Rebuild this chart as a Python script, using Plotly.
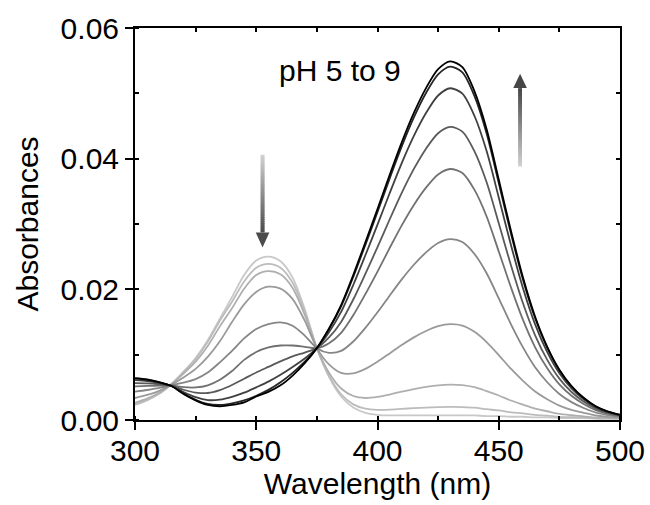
import plotly.graph_objects as go

# ---------------- data ----------------
wavelength = [300, 305, 310, 315, 320, 325, 330, 335, 340, 345, 350, 355, 360, 365, 370,
              375, 380, 385, 390, 395, 400, 405, 410, 415, 420, 425, 430, 435, 440, 445,
              450, 455, 460, 465, 470, 475, 480, 485, 490, 495, 500]

spec_01 = [0.0023, 0.0030, 0.0040, 0.0055, 0.0074, 0.0095, 0.0122, 0.0155, 0.0188, 0.0222, 0.0244, 0.0250, 0.0243, 0.0218, 0.0170,
           0.0110, 0.0066, 0.0036, 0.0019, 0.0011, 0.0008, 0.0007, 0.0007, 0.0007, 0.0007, 0.0007, 0.0007, 0.0007, 0.0007, 0.0006,
           0.0006, 0.0005, 0.0005, 0.0004, 0.0004, 0.0003, 0.0003, 0.0003, 0.0002, 0.0002, 0.0002]
spec_02 = [0.00240, 0.00308, 0.00404, 0.00549, 0.00732, 0.00934, 0.01196, 0.01518, 0.01810, 0.02120, 0.02330, 0.02390, 0.02330, 0.02100, 0.01660,
           0.01100, 0.00678, 0.00394, 0.00239, 0.00173, 0.00156, 0.00158, 0.00170, 0.00181, 0.00190, 0.00197, 0.00200, 0.00198, 0.00189, 0.00165,
           0.00147, 0.00118, 0.00101, 0.00077, 0.00066, 0.00048, 0.00042, 0.00037, 0.00025, 0.00023, 0.00021]
spec_03 = [0.00266, 0.00328, 0.00416, 0.00547, 0.00710, 0.00893, 0.01134, 0.01433, 0.01710, 0.02010, 0.02220, 0.02280, 0.02230, 0.02020, 0.01610,
           0.01100, 0.00724, 0.00482, 0.00367, 0.00337, 0.00354, 0.00390, 0.00434, 0.00473, 0.00506, 0.00531, 0.00542, 0.00534, 0.00502, 0.00442,
           0.00375, 0.00298, 0.00235, 0.00174, 0.00134, 0.00094, 0.00073, 0.00057, 0.00037, 0.00030, 0.00025]
spec_04 = [0.00336, 0.00383, 0.00446, 0.00542, 0.00652, 0.00782, 0.00965, 0.01204, 0.01500, 0.01770, 0.01960, 0.02040, 0.02010, 0.01850, 0.01520,
           0.01100, 0.00851, 0.00721, 0.00714, 0.00783, 0.00893, 0.01019, 0.01148, 0.01265, 0.01363, 0.01437, 0.01468, 0.01445, 0.01350, 0.01193,
           0.00994, 0.00785, 0.00600, 0.00437, 0.00319, 0.00221, 0.00156, 0.00110, 0.00069, 0.00048, 0.00035]
spec_05 = [0.00434, 0.00459, 0.00490, 0.00535, 0.00571, 0.00626, 0.00727, 0.00883, 0.01058, 0.01249, 0.01394, 0.01469, 0.01494, 0.01443, 0.01292,
           0.01100, 0.01029, 0.01057, 0.01201, 0.01410, 0.01649, 0.01903, 0.02152, 0.02376, 0.02565, 0.02709, 0.02769, 0.02724, 0.02540, 0.02246,
           0.01863, 0.01469, 0.01111, 0.00807, 0.00578, 0.00399, 0.00274, 0.00184, 0.00115, 0.00075, 0.00050]
spec_06 = [0.00515, 0.00523, 0.00525, 0.00529, 0.00503, 0.00498, 0.00531, 0.00617, 0.00750, 0.00920, 0.01040, 0.01110, 0.01140, 0.01140, 0.01120,
           0.01100, 0.01175, 0.01334, 0.01603, 0.01927, 0.02272, 0.02631, 0.02979, 0.03292, 0.03557, 0.03759, 0.03842, 0.03780, 0.03522, 0.03115,
           0.02580, 0.02034, 0.01532, 0.01112, 0.00792, 0.00545, 0.00371, 0.00246, 0.00152, 0.00097, 0.00062]
spec_07 = [0.00564, 0.00561, 0.00547, 0.00526, 0.00463, 0.00420, 0.00413, 0.00458, 0.00535, 0.00631, 0.00728, 0.00813, 0.00898, 0.00974, 0.01032,
           0.01100, 0.01263, 0.01501, 0.01844, 0.02237, 0.02647, 0.03069, 0.03477, 0.03843, 0.04153, 0.04390, 0.04487, 0.04414, 0.04112, 0.03638,
           0.03010, 0.02373, 0.01786, 0.01295, 0.00920, 0.00633, 0.00429, 0.00283, 0.00175, 0.00110, 0.00069]
spec_08 = [0.00609, 0.00596, 0.00566, 0.00522, 0.00426, 0.00349, 0.00305, 0.00312, 0.00355, 0.00418, 0.00500, 0.00587, 0.00693, 0.00812, 0.00942,
           0.01100, 0.01344, 0.01654, 0.02066, 0.02522, 0.02991, 0.03470, 0.03932, 0.04348, 0.04699, 0.04967, 0.05078, 0.04995, 0.04653, 0.04116,
           0.03405, 0.02683, 0.02018, 0.01463, 0.01038, 0.00714, 0.00483, 0.00316, 0.00196, 0.00122, 0.00075]
spec_09 = [0.00634, 0.00615, 0.00577, 0.00520, 0.00405, 0.00310, 0.00245, 0.00230, 0.00255, 0.00299, 0.00371, 0.00461, 0.00578, 0.00722, 0.00892,
           0.01100, 0.01389, 0.01739, 0.02190, 0.02681, 0.03183, 0.03695, 0.04187, 0.04631, 0.05005, 0.05291, 0.05409, 0.05320, 0.04956, 0.04384,
           0.03626, 0.02857, 0.02148, 0.01557, 0.01104, 0.00759, 0.00513, 0.00335, 0.00207, 0.00128, 0.00079]
spec_10 = [0.0064, 0.0062, 0.0058, 0.0052, 0.0040, 0.0030, 0.0023, 0.0021, 0.0023, 0.0027, 0.0036, 0.0043, 0.0053, 0.0068, 0.0087,
           0.0110, 0.0140, 0.0176, 0.0222, 0.0272, 0.0323, 0.0375, 0.0425, 0.0470, 0.0508, 0.0537, 0.0549, 0.0540, 0.0503, 0.0445,
           0.0368, 0.0290, 0.0218, 0.0158, 0.0112, 0.0077, 0.0052, 0.0034, 0.0021, 0.0013, 0.0008]

spectra = [spec_01, spec_02, spec_03, spec_04, spec_05, spec_06, spec_07, spec_08, spec_09, spec_10]
line_colors = ["#c8c8c8", "#bcbcbc", "#afafaf", "#9a9a9a", "#868686",
               "#717171", "#5a5a5a", "#404040", "#252525", "#000000"]

FONT = "Liberation Sans, Arial, sans-serif"

fig = go.Figure()
for ys, col in zip(spectra, line_colors):
    fig.add_trace(go.Scatter(x=wavelength, y=ys, mode="lines",
                             line=dict(color=col, width=1.8, shape="spline", smoothing=0.8),
                             showlegend=False, hoverinfo="skip"))

# invisible trace to activate the mirrored (top/right) axes
fig.add_trace(go.Scatter(x=[None], y=[None], xaxis="x2", yaxis="y2", showlegend=False))

# ---------------- gradient arrows ----------------
def gradient_arrow(x, y_tail, y_base, y_tip, light, dark, n=40):
    half = 0.8  # shaft half-width in nm (~2 px)
    step = (y_base - y_tail) / n
    for i in range(n):
        y0 = y_tail + step * i
        y1 = y_tail + step * (i + 1.6) if i < n - 1 else y_base
        t = (i + 0.5) / n
        g = int(round(light + (dark - light) * t))
        fig.add_shape(type="rect", x0=x - half, x1=x + half, y0=y0, y1=y1,
                      xref="x", yref="y", fillcolor=f"rgb({g},{g},{g})",
                      line=dict(width=0), layer="above")
    hw = 2.8
    fig.add_shape(type="path", xref="x", yref="y",
                  path=f"M {x-hw},{y_base} L {x+hw},{y_base} L {x},{y_tip} Z",
                  fillcolor=f"rgb({dark},{dark},{dark})", line=dict(width=0))

gradient_arrow(352.6, 0.0406, 0.0287, 0.0264, 210, 75)   # downward arrow
gradient_arrow(458.8, 0.0388, 0.0508, 0.0530, 210, 70)   # upward arrow

fig.add_annotation(x=384.5, y=0.0535, xref="x", yref="y", text="pH 5 to 9",
                   showarrow=False, font=dict(family=FONT, size=30, color="black"))

axis_common = dict(showgrid=False, zeroline=False, showline=True, linecolor="black",
                   linewidth=2, tickcolor="black", tickwidth=2, automargin=False)

fig.update_layout(
    template="none",
    width=650, height=505,
    margin=dict(l=135, r=30, t=28, b=85, autoexpand=False),
    paper_bgcolor="white", plot_bgcolor="white",
    font=dict(family=FONT, color="black"),
    xaxis=dict(range=[300, 500], tick0=300, dtick=50, ticks="outside", ticklen=8,
               ticklabelstandoff=-5,
               tickfont=dict(size=30), mirror=True,
               minor=dict(ticks="inside", dtick=25, ticklen=4, tickwidth=1.5, tickcolor="black"),
               title=dict(text="Wavelength (nm)", font=dict(size=30), standoff=0),
               **axis_common),
    yaxis=dict(range=[0, 0.06], tick0=0, dtick=0.02, tickformat=".2f", ticks="outside", ticklen=8,
               tickfont=dict(size=30), mirror=True,
               minor=dict(ticks="inside", dtick=0.01, ticklen=4, tickwidth=1.5, tickcolor="black"),
               title=dict(text="Absorbances", font=dict(size=30), standoff=13),
               **axis_common),
    xaxis2=dict(range=[300, 500], overlaying="x", side="top", anchor="y", tick0=300, dtick=25,
                ticks="inside", ticklen=4, tickwidth=1.5, tickcolor="black", automargin=False,
                showticklabels=False, showgrid=False, zeroline=False, showline=False),
    yaxis2=dict(range=[0, 0.06], overlaying="y", side="right", anchor="x", tick0=0, dtick=0.01,
                ticks="inside", ticklen=4, tickwidth=1.5, tickcolor="black", automargin=False,
                showticklabels=False, showgrid=False, zeroline=False, showline=False),
)

fig.write_html("out.html")
